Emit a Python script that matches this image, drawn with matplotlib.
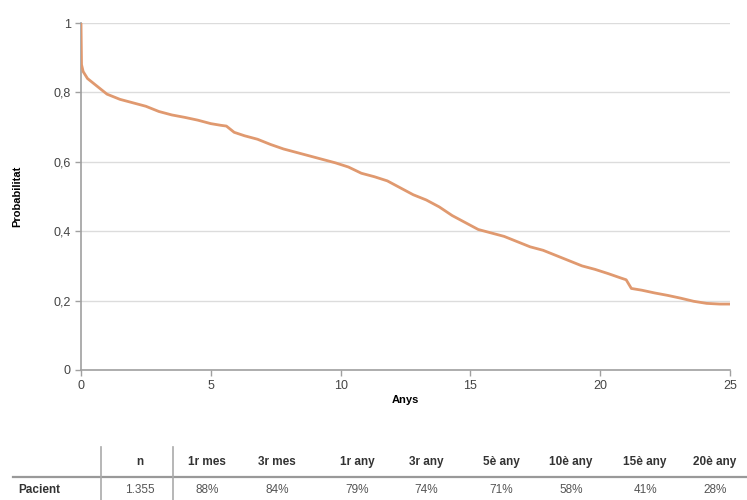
import matplotlib.pyplot as plt
from matplotlib.lines import Line2D
from matplotlib.ticker import FuncFormatter

# Corba de supervivència (llegida del gràfic)
anys = [0, 0.02, 0.083, 0.25, 0.5, 0.75, 1, 1.5, 2, 2.5, 3, 3.5, 4, 4.5, 5,
        5.4, 5.6, 5.9, 6.3, 6.8, 7.3, 7.8, 8.3, 8.8, 9.3, 9.8, 10.3, 10.8,
        11.3, 11.8, 12.3, 12.8, 13.3, 13.8, 14.3, 14.8, 15.3, 15.8, 16.3,
        16.8, 17.3, 17.8, 18.3, 18.8, 19.3, 19.8, 20.3, 20.8, 21.0, 21.2,
        21.6, 22.1, 22.6, 23.1, 23.6, 24.1, 24.6, 25]
prob = [1, 0.88, 0.86, 0.84, 0.825, 0.81, 0.795, 0.78, 0.77, 0.76, 0.745,
        0.735, 0.728, 0.72, 0.71, 0.705, 0.703, 0.685, 0.675, 0.665, 0.65,
        0.637, 0.627, 0.617, 0.607, 0.597, 0.585, 0.567, 0.557, 0.545, 0.525,
        0.505, 0.49, 0.47, 0.445, 0.425, 0.405, 0.395, 0.385, 0.37, 0.355,
        0.345, 0.33, 0.315, 0.30, 0.29, 0.278, 0.265, 0.26, 0.235, 0.23,
        0.222, 0.215, 0.207, 0.198, 0.192, 0.19, 0.19]

# Taula
capcaleres = ["n", "1r mes", "3r mes", "1r any", "3r any", "5è any",
              "10è any", "15è any", "20è any"]
fila_nom = "Pacient"
fila_valors = ["1.355", "88%", "84%", "79%", "74%", "71%", "58%", "41%", "28%"]

plt.rcParams['font.family'] = ['Liberation Sans', 'DejaVu Sans']

W, H = 747, 500
fig = plt.figure(figsize=(W / 100, H / 100), dpi=100)
ax = fig.add_axes([81 / W, 1 - 370 / H, (730 - 81) / W, (370 - 23) / H])

ax.plot(anys, prob, color='#e0996f', lw=2, zorder=3)

ax.set_xlim(0, 25)
ax.set_ylim(0, 1)
ax.set_xticks([0, 5, 10, 15, 20, 25])
ax.set_yticks([0, 0.2, 0.4, 0.6, 0.8, 1])
ax.yaxis.set_major_formatter(FuncFormatter(
    lambda v, p: "0" if v == 0 else ("1" if v == 1 else f"{v:.1f}".replace(".", ","))))
ax.grid(axis='y', color='#dcdcdc', lw=1)
ax.set_axisbelow(True)
for s in ['top', 'right']:
    ax.spines[s].set_visible(False)
for s in ['left', 'bottom']:
    ax.spines[s].set_color('#a0a0a0')
    ax.spines[s].set_linewidth(1.2)
ax.tick_params(colors='#a0a0a0', labelcolor='#444444', labelsize=9,
               length=4, width=1)
ax.set_xlabel("Anys", fontsize=8, fontweight='bold', labelpad=2)
ax.set_ylabel("Probabilitat", fontsize=8, fontweight='bold', labelpad=22)

# Taula a la part inferior
col_x = [140, 207, 277, 357, 426, 501, 571, 645, 715]
y_cap = 1 - 462 / H
y_val = 1 - 490 / H
for x, c in zip(col_x, capcaleres):
    fig.text(x / W, y_cap, c, ha='center', va='center', fontsize=8.5,
             fontweight='bold', color='#333333')
fig.text(18 / W, y_val, fila_nom, ha='left', va='center', fontsize=8.5,
         fontweight='bold', color='#333333')
for x, v in zip(col_x, fila_valors):
    fig.text(x / W, y_val, v, ha='center', va='center', fontsize=8.5,
             color='#555555')

fig.add_artist(Line2D([13 / W, 1], [1 - 477 / H] * 2, color='#999999', lw=1.6))
for xs in [101, 173]:
    fig.add_artist(Line2D([xs / W] * 2, [1 - 447 / H, 0], color='#aaaaaa', lw=1.2))

fig.savefig("out.png", dpi=100)
